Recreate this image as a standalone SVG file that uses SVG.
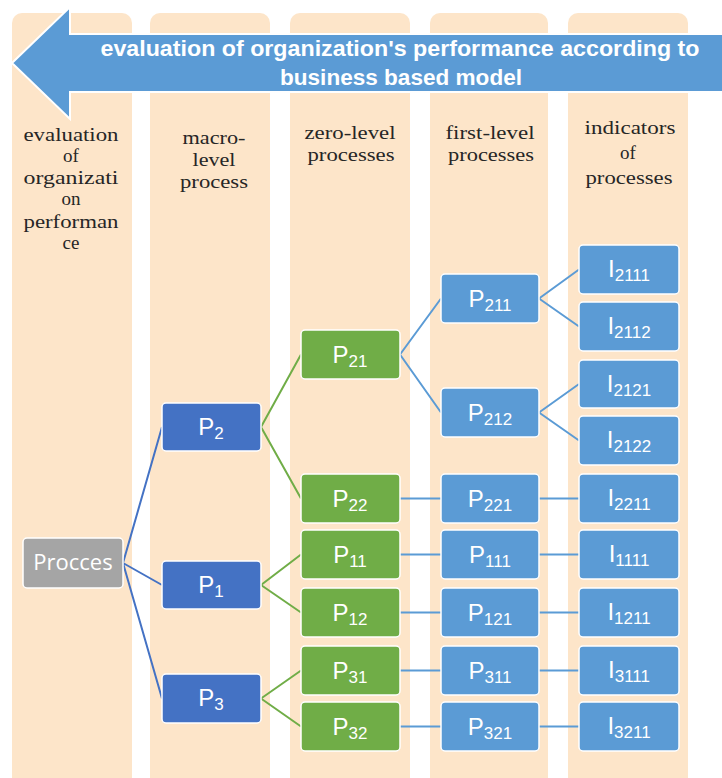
<svg xmlns="http://www.w3.org/2000/svg" width="722" height="778" viewBox="0 0 722 778">
  <style>
    .lane { fill: #FDE5C9; }
    .hdr { font-family: "Liberation Serif", "Times New Roman", serif; font-size: 19px; fill: #262626; text-anchor: middle; }
    .box { stroke: #FFFFFF; stroke-width: 1.5; }
    .root { fill: #A5A5A5; }
    .macro { fill: #4472C4; }
    .zero { fill: #70AD47; }
    .first { fill: #5B9BD5; }
    .ind { fill: #5B9BD5; }
    .lbl { font-family: "Liberation Sans", Arial, sans-serif; font-size: 24px; fill: #FFFFFF; text-anchor: middle; }
    .sub { font-size: 17px; }
    .rootlbl { font-family: "Open Sans", "Liberation Sans", sans-serif; font-size: 22px; fill: #FFFFFF; text-anchor: middle; }
    .c-macro { stroke: #4472C4; stroke-width: 2; fill: none; }
    .c-zero { stroke: #70AD47; stroke-width: 2; fill: none; }
    .c-first { stroke: #5B9BD5; stroke-width: 2; fill: none; }
    .banner { fill: #5B9BD5; stroke: #FFFFFF; stroke-width: 2; }
    .bannertxt { font-family: "Liberation Sans", Arial, sans-serif; font-weight: bold; font-size: 22px; fill: #FFFFFF; text-anchor: middle; }
  </style>

  <!-- swim lanes -->
  <g id="lanes">
    <rect class="lane" x="12" y="13" width="120" height="790" rx="10"/>
    <rect class="lane" x="150" y="13" width="120" height="790" rx="10"/>
    <rect class="lane" x="290" y="13" width="120" height="790" rx="10"/>
    <rect class="lane" x="430" y="13" width="118" height="790" rx="10"/>
    <rect class="lane" x="568" y="13" width="120" height="790" rx="10"/>
  </g>

  <!-- banner arrow -->
  <g id="banner">
    <polygon class="banner" points="12,63 70,7 70,34 723,34 723,92 70,92 70,119"/>
    <text class="bannertxt" x="400" y="56" textLength="599" lengthAdjust="spacingAndGlyphs">evaluation of organization's performance according to</text>
    <text class="bannertxt" x="401" y="85" textLength="242" lengthAdjust="spacingAndGlyphs">business based model</text>
  </g>

  <!-- lane headers -->
  <g id="headers">
    <text class="hdr" x="71" y="141" textLength="95" lengthAdjust="spacingAndGlyphs">evaluation</text>
    <text class="hdr" x="71" y="162">of</text>
    <text class="hdr" x="71" y="184" textLength="95" lengthAdjust="spacingAndGlyphs">organizati</text>
    <text class="hdr" x="71" y="205">on</text>
    <text class="hdr" x="71" y="228" textLength="95" lengthAdjust="spacingAndGlyphs">performan</text>
    <text class="hdr" x="71" y="249">ce</text>

    <text class="hdr" x="214" y="144" textLength="63" lengthAdjust="spacingAndGlyphs">macro-</text>
    <text class="hdr" x="214" y="166" textLength="43" lengthAdjust="spacingAndGlyphs">level</text>
    <text class="hdr" x="214" y="188" textLength="68" lengthAdjust="spacingAndGlyphs">process</text>

    <text class="hdr" x="350" y="139" textLength="91" lengthAdjust="spacingAndGlyphs">zero-level</text>
    <text class="hdr" x="351" y="161" textLength="87" lengthAdjust="spacingAndGlyphs">processes</text>

    <text class="hdr" x="490" y="139" textLength="89" lengthAdjust="spacingAndGlyphs">first-level</text>
    <text class="hdr" x="491" y="161" textLength="86" lengthAdjust="spacingAndGlyphs">processes</text>

    <text class="hdr" x="630" y="134" textLength="91" lengthAdjust="spacingAndGlyphs">indicators</text>
    <text class="hdr" x="628" y="159">of</text>
    <text class="hdr" x="629" y="184" textLength="87" lengthAdjust="spacingAndGlyphs">processes</text>
  </g>

  <!-- connectors -->
  <g id="connectors">
    <path class="c-macro" d="M123,563 L162,427 M123,563 L162,585 M123,563 L162,698.5"/>
    <path class="c-zero" d="M261,427 L301,354.5 M261,427 L301,498.5 M261,585 L301,554.5 M261,585 L301,612.5 M261,698.5 L301,670.5 M261,698.5 L301,726.5"/>
    <path class="c-first" d="M400,354.5 L441,298.5 M400,354.5 L441,412.5
      M539,298.5 L579,269.5 M539,298.5 L579,326.5
      M539,412.5 L579,384 M539,412.5 L579,440.5
      M400,498.5 L441,498.5 M539,498.5 L579,498.5
      M400,554.5 L441,554.5 M539,554.5 L579,554.5
      M400,612.5 L441,612.5 M539,612.5 L579,612.5
      M400,670.5 L441,670.5 M539,670.5 L579,670.5
      M400,726.5 L441,726.5 M539,726.5 L579,726.5"/>
  </g>

  <!-- root -->
  <g id="procces">
    <rect class="box root" x="23" y="538" width="100" height="50" rx="4"/>
    <text class="rootlbl" x="73" y="570">Procces</text>
  </g>

  <!-- macro-level -->
  <g id="P2">
    <rect class="box macro" x="162" y="403" width="99" height="48" rx="4"/>
    <text class="lbl" x="211" y="435">P<tspan class="sub" dy="4">2</tspan></text>
  </g>
  <g id="P1">
    <rect class="box macro" x="162" y="561" width="99" height="48" rx="4"/>
    <text class="lbl" x="211" y="593">P<tspan class="sub" dy="4">1</tspan></text>
  </g>
  <g id="P3">
    <rect class="box macro" x="162" y="674" width="99" height="49" rx="4"/>
    <text class="lbl" x="211" y="706">P<tspan class="sub" dy="4">3</tspan></text>
  </g>

  <!-- zero-level -->
  <g id="P21">
    <rect class="box zero" x="301" y="330" width="99" height="49" rx="4"/>
    <text class="lbl" x="350" y="363">P<tspan class="sub" dy="4">21</tspan></text>
  </g>
  <g id="P22">
    <rect class="box zero" x="301" y="474" width="99" height="49" rx="4"/>
    <text class="lbl" x="350" y="507">P<tspan class="sub" dy="4">22</tspan></text>
  </g>
  <g id="P11">
    <rect class="box zero" x="301" y="530" width="99" height="49" rx="4"/>
    <text class="lbl" x="350" y="563">P<tspan class="sub" dy="4">11</tspan></text>
  </g>
  <g id="P12">
    <rect class="box zero" x="301" y="588" width="99" height="49" rx="4"/>
    <text class="lbl" x="350" y="621">P<tspan class="sub" dy="4">12</tspan></text>
  </g>
  <g id="P31">
    <rect class="box zero" x="301" y="646" width="99" height="49" rx="4"/>
    <text class="lbl" x="350" y="679">P<tspan class="sub" dy="4">31</tspan></text>
  </g>
  <g id="P32">
    <rect class="box zero" x="301" y="702" width="99" height="49" rx="4"/>
    <text class="lbl" x="350" y="735">P<tspan class="sub" dy="4">32</tspan></text>
  </g>

  <!-- first-level -->
  <g id="P211">
    <rect class="box first" x="441" y="274" width="98" height="49" rx="4"/>
    <text class="lbl" x="490" y="307">P<tspan class="sub" dy="4">211</tspan></text>
  </g>
  <g id="P212">
    <rect class="box first" x="441" y="388" width="98" height="49" rx="4"/>
    <text class="lbl" x="490" y="421">P<tspan class="sub" dy="4">212</tspan></text>
  </g>
  <g id="P221">
    <rect class="box first" x="441" y="474" width="98" height="49" rx="4"/>
    <text class="lbl" x="490" y="507">P<tspan class="sub" dy="4">221</tspan></text>
  </g>
  <g id="P111">
    <rect class="box first" x="441" y="530" width="98" height="49" rx="4"/>
    <text class="lbl" x="490" y="563">P<tspan class="sub" dy="4">111</tspan></text>
  </g>
  <g id="P121">
    <rect class="box first" x="441" y="588" width="98" height="49" rx="4"/>
    <text class="lbl" x="490" y="621">P<tspan class="sub" dy="4">121</tspan></text>
  </g>
  <g id="P311">
    <rect class="box first" x="441" y="646" width="98" height="49" rx="4"/>
    <text class="lbl" x="490" y="679">P<tspan class="sub" dy="4">311</tspan></text>
  </g>
  <g id="P321">
    <rect class="box first" x="441" y="702" width="98" height="49" rx="4"/>
    <text class="lbl" x="490" y="735">P<tspan class="sub" dy="4">321</tspan></text>
  </g>

  <!-- indicators -->
  <g id="I2111">
    <rect class="box ind" x="579" y="245" width="100" height="49" rx="4"/>
    <text class="lbl" x="629" y="277">I<tspan class="sub" dy="4">2111</tspan></text>
  </g>
  <g id="I2112">
    <rect class="box ind" x="579" y="302" width="100" height="49" rx="4"/>
    <text class="lbl" x="629" y="334">I<tspan class="sub" dy="4">2112</tspan></text>
  </g>
  <g id="I2121">
    <rect class="box ind" x="579" y="360" width="100" height="48" rx="4"/>
    <text class="lbl" x="629" y="392">I<tspan class="sub" dy="4">2121</tspan></text>
  </g>
  <g id="I2122">
    <rect class="box ind" x="579" y="416" width="100" height="49" rx="4"/>
    <text class="lbl" x="629" y="448">I<tspan class="sub" dy="4">2122</tspan></text>
  </g>
  <g id="I2211">
    <rect class="box ind" x="579" y="474" width="100" height="49" rx="4"/>
    <text class="lbl" x="629" y="506">I<tspan class="sub" dy="4">2211</tspan></text>
  </g>
  <g id="I1111">
    <rect class="box ind" x="579" y="530" width="100" height="49" rx="4"/>
    <text class="lbl" x="629" y="562">I<tspan class="sub" dy="4">1111</tspan></text>
  </g>
  <g id="I1211">
    <rect class="box ind" x="579" y="588" width="100" height="49" rx="4"/>
    <text class="lbl" x="629" y="620">I<tspan class="sub" dy="4">1211</tspan></text>
  </g>
  <g id="I3111">
    <rect class="box ind" x="579" y="646" width="100" height="49" rx="4"/>
    <text class="lbl" x="629" y="678">I<tspan class="sub" dy="4">3111</tspan></text>
  </g>
  <g id="I3211">
    <rect class="box ind" x="579" y="702" width="100" height="49" rx="4"/>
    <text class="lbl" x="629" y="734">I<tspan class="sub" dy="4">3211</tspan></text>
  </g>
</svg>
